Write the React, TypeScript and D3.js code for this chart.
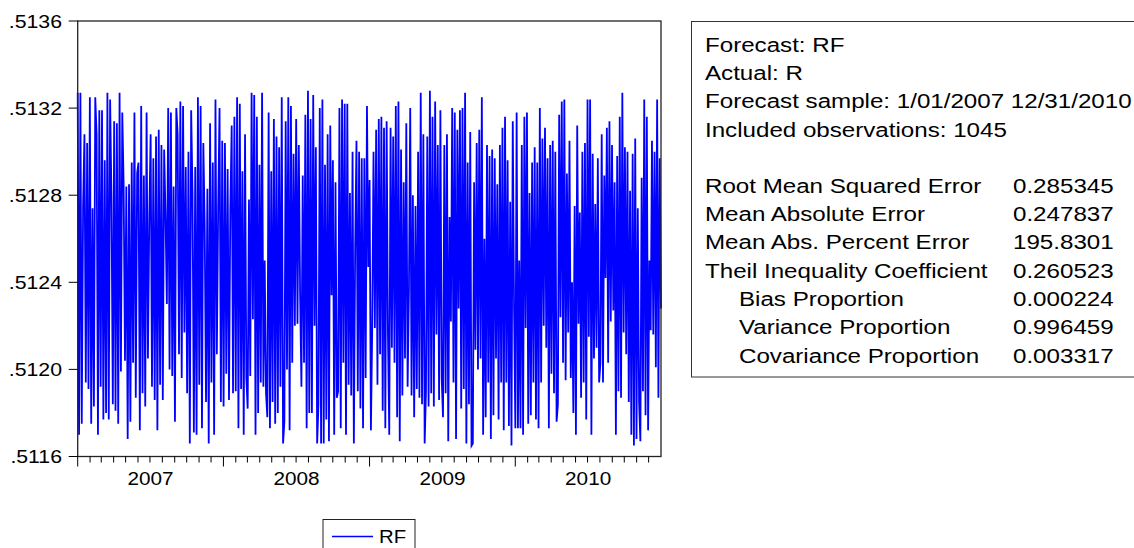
import React from 'react';
import * as d3 from 'd3';

const peaksA = [.51327, .51327, .51275, .51308, .51304, .51325, .51274, .51325, .51308, .51319, .51319, .51296, .51327, .51324, .51279, .51314, .51313, .51327, .51318, .51285, .51284, .51285, .51295, .51318, .5129, .51295, .51321, .51289, .51318, .5127, .51308, .51297, .51307, .5131, .51303, .51301, .51271, .5132, .51318, .51284, .5132, .51308, .51323, .51321, .51293, .513, .51319, .51281, .51293, .51325, .51321, .51304, .51267, .51283, .51313, .51295, .51324, .51274, .5132, .51305, .51304, .51292, .51274, .51312, .51316, .51325];
const troughsA = [.5117, .51175, .51194, .51191, .51175, .51183, .5117, .51192, .51177, .5118, .51177, .51184, .51181, .51175, .51199, .51204, .51168, .51176, .51203, .51187, .51172, .51189, .51183, .51205, .51192, .51186, .51172, .51193, .51186, .5123, .512, .51197, .51176, .51207, .51196, .51217, .51189, .51166, .51171, .5117, .51193, .51173, .51185, .51166, .51194, .5117, .51207, .51185, .51183, .51198, .51186, .51189, .5119, .51173];

const peaksB = [.51322, .51291, .51308, .51278, .51327, .51326, .51316, .51294, .51327, .5125, .51318, .51291, .51315, .51307, .51302, .51325, .51314, .51325, .51321, .51299, .51315, .51303, .51289, .51317, .51328, .51315, .51326, .51302, .5132, .51324, .51294, .51308, .51312, .51296, .51286, .5132, .51324, .51322, .51322, .51281, .513, .51305, .513, .51297, .51297, .51321, .51287, .513, .5131, .51315, .51316, .51311, .51314, .51311, .51307, .51321, .51323, .51301, .51286, .51313, .5132, .5128, .51275, .513, .51327, .51308, .51307, .51328, .51316, .51323, .51303, .51319, .51303, .51308, .5127];
const troughsB = [.51191, .5117, .51196, .51182, .51197, .51223, .5117, .5118, .51194, .51192, .51189, .51178, .51173, .51185, .51175, .5118, .51192, .51166, .51176, .512, .51172, .51203, .5122, .51221, .51235, .51192, .51203, .51173, .5118, .5118, .5122, .51166, .51184, .51166, .51166, .51177, .51167, .51234, .5117, .51187, .5119, .51173, .51203, .5117, .51193, .51188, .51166, .51256, .5119, .51182, .51173, .51196, .51247, .51172, .51219, .51219, .51193, .51207, .51181, .51173, .51216, .5117, .5121, .51203, .51178, .51167, .51188, .51205, .51192, .51236, .51188, .51178, .51191, .51187, .51184, .51166, .5119, .51183, .51189, .51183, .51216, .51186, .51196, .51178, .51189, .51167, .51222];

const peaksC = [.5132, .51318, .5131, .51319, .5132, .51327, .51295, .51309, .51286, .51304, .5131, .51325, .5126, .51303, .51298, .51301, .51297, .51285, .51303, .51311, .51316, .51296, .51277, .51314, .51318, .5125, .51303, .51316, .51318, .51281, .51295, .51302, .51295, .5132, .51306, .51311, .51297, .51303, .51305, .513, .51317, .51323, .51324, .5129, .51305, .5124, .51275, .51312, .51272, .513, .51304, .51324, .51324, .51299, .51276, .51297, .51308, .51289, .51311, .51314, .51303, .51286, .51298, .51316, .51327, .51302, .513, .51282, .51299, .51306, .51274, .51288, .51324, .51316, .5125, .51305, .513, .51324, .51297];
const troughsC = [.51194, .51168, .51228, .51182, .51191, .51166, .51184, .51165, .51166, .51209, .512, .51205, .5117, .51178, .51194, .51168, .51179, .51205, .51177, .51194, .51172, .51194, .51174, .51165, .51228, .51173, .51173, .51173, .5117, .51219, .51175, .51179, .51194, .51177, .51173, .51194, .5122, .5121, .51173, .51198, .51189, .51176, .51184, .51224, .51203, .51195, .51217, .51196, .5118, .5117, .51221, .51187, .51194, .51177, .51215, .5117, .51205, .5121, .51194, .51203, .51194, .51242, .51203, .51222, .51227, .5117, .5119, .51187, .51217, .51207, .51185, .5117, .51165, .51168, .51185, .51167, .5119, .51179, .51172, .51218, .51216, .51201, .51187, .51228];

const segmentDates = ['2007-01-01', '2008-02-11', '2009-07-27', '2011-01-01'];
const yTicks = [0.5116, 0.512, 0.5124, 0.5128, 0.5132, 0.5136];
const years = [2007, 2008, 2009, 2010];

const header = ['Forecast: RF', 'Actual: R', 'Forecast sample: 1/01/2007 12/31/2010', 'Included observations: 1045'];
const statLabels = ['Root Mean Squared Error', 'Mean Absolute Error', 'Mean Abs. Percent Error', 'Theil Inequality Coefficient', 'Bias Proportion', 'Variance Proportion', 'Covariance Proportion'];
const statValues = ['0.285345', '0.247837', '195.8301', '0.260523', '0.000224', '0.996459', '0.003317'];
const statIndent = [false, false, false, false, true, true, true];

const FONT = 'Liberation Sans, Arial, Helvetica, sans-serif';
const W = 1134, H = 548;
const plot = { left: 77.7, right: 661, top: 21, bottom: 456.5 };

// put highs and lows back in reading order
const merge = (peaks: number[], troughs: number[]) =>
	peaks.map((v, i) => ({ v, k: (i + 0.25) / peaks.length }))
		.concat(troughs.map((v, i) => ({ v, k: (i + 0.75) / troughs.length })))
		.sort((a, b) => a.k - b.k)
		.map(d => d.v);

const segments = [[peaksA, troughsA], [peaksB, troughsB], [peaksC, troughsC]];

const series: { date: Date; value: number }[] = [];
segments.forEach(([p, t], s) => {
	const vals = merge(p, t);
	const t0 = new Date(segmentDates[s]).getTime();
	const t1 = new Date(segmentDates[s + 1]).getTime();
	const last = s === segments.length - 1;
	const step = (t1 - t0) / (last ? vals.length - 1 : vals.length);
	vals.forEach((v, i) => series.push({ date: new Date(t0 + i * step), value: v }));
});

const sx = (k: number) => `scale(${k},1)`;

export default function App() {
	const x = d3.scaleTime()
		.domain([new Date(2007, 0, 1), new Date(2011, 0, 1)])
		.range([plot.left, plot.right]);
	const y = d3.scaleLinear()
		.domain([0.5116, 0.5136])
		.range([plot.bottom, plot.top]);

	const line = d3.line<{ date: Date; value: number }>()
		.x(d => x(d.date))
		.y(d => y(d.value));

	const months = d3.timeMonth.range(new Date(2007, 0, 1), new Date(2011, 0, 1));

	const statTop = 51.7, lineGap = 28.3, statTop2 = 192.7;

	return (
		<svg width={W} height={H} style={{ position: 'absolute', left: 0, top: 0, background: '#fff' }}
			fontFamily={FONT}>
			<rect x={0} y={0} width={W} height={H} fill="#fff" />

			{/* data */}
			<path d={line(series) || ''} fill="none" stroke="#0000ff" strokeWidth={1.8} />

			{/* frame */}
			<rect x={plot.left} y={plot.top} width={plot.right - plot.left} height={plot.bottom - plot.top}
				fill="none" stroke="#222" strokeWidth={1.3} />

			{/* y axis */}
			{yTicks.map(t => (
				<g key={t}>
					<line x1={plot.left - 9} x2={plot.left} y1={y(t)} y2={y(t)} stroke="#000" strokeWidth={1} />
					<text transform={`translate(62,${y(t) + 6.5}) ${sx(1.15)}`} textAnchor="end" fontSize={18.5} fill="#000">
						{d3.format('.4f')(t).replace(/^0/, '')}
					</text>
				</g>
			))}

			{/* x axis */}
			{months.map(m => {
				const major = m.getMonth() === 0;
				return <line key={+m} x1={x(m)} x2={x(m)} y1={plot.bottom} y2={plot.bottom + (major ? 10 : 6)}
					stroke="#000" strokeWidth={1} />;
			})}
			{years.map(yr => {
				const cx = (x(new Date(yr, 0, 1)) + x(new Date(yr + 1, 0, 1))) / 2;
				return <text key={yr} transform={`translate(${cx},485) ${sx(1.12)}`} textAnchor="middle" fontSize={18.5} fill="#000">{yr}</text>;
			})}

			{/* legend */}
			<rect x={323} y={519.5} width={92} height={40} fill="#fff" stroke="#222" strokeWidth={1} />
			<line x1={332} x2={373} y1={536.5} y2={536.5} stroke="#0000ff" strokeWidth={1.3} />
			<text transform={`translate(379,543) ${sx(1.1)}`} fontSize={18.5} fill="#000">RF</text>

			{/* statistics box */}
			<rect x={691.5} y={21.5} width={470} height={355.5} fill="#fff" stroke="#333" strokeWidth={1} />
			{header.map((h, i) => (
				<text key={h} transform={`translate(705,${statTop + i * lineGap}) ${sx(1.15)}`} fontSize={21} fill="#000">{h}</text>
			))}
			{statLabels.map((l, i) => (
				<g key={l}>
					<text transform={`translate(${statIndent[i] ? 739 : 705},${statTop2 + i * lineGap}) ${sx(1.15)}`} fontSize={21} fill="#000">{l}</text>
					<text transform={`translate(1013,${statTop2 + i * lineGap}) ${sx(1.15)}`} fontSize={21} fill="#000">{statValues[i]}</text>
				</g>
			))}
		</svg>
	);
}
